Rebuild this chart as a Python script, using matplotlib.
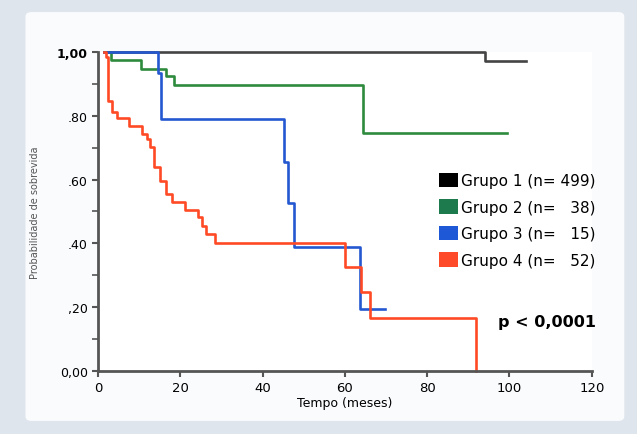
import matplotlib.pyplot as plt
from matplotlib.patches import Patch, FancyBboxPatch

# Kaplan-Meier Kurven
t_g1 = [1.5, 94.0, 104.0]
s_g1 = [1.0, 0.972, 0.972]

t_g2 = [1.5, 3.2, 10.4, 16.5, 18.4, 64.3, 99.5]
s_g2 = [1.0, 0.974, 0.947, 0.926, 0.897, 0.746, 0.746]

t_g3 = [1.5, 14.6, 15.4, 45.1, 46.2, 47.6, 63.6, 69.7]
s_g3 = [1.0, 0.933, 0.79, 0.656, 0.527, 0.39, 0.194, 0.194]

t_g4 = [1.5, 2.0, 2.4, 3.3, 4.5, 7.4, 10.6, 11.8, 12.6, 13.7, 15.0, 16.4, 18.0,
        21.1, 24.2, 25.3, 26.2, 28.4, 60.1, 64.0, 66.0, 91.9]
s_g4 = [1.0, 0.984, 0.847, 0.813, 0.792, 0.767, 0.743, 0.727, 0.703, 0.638, 0.597,
        0.555, 0.531, 0.506, 0.482, 0.454, 0.429, 0.401, 0.327, 0.249, 0.166, 0.0]

legend_labels = ["Grupo 1 (n= 499)", "Grupo 2 (n=   38)", "Grupo 3 (n=   15)", "Grupo 4 (n=   52)"]
x_ticks = [0, 20, 40, 60, 80, 100, 120]
y_ticks = [0.0, 0.2, 0.4, 0.6, 0.8, 1.0]
y_ticklabels = ["0,00", ",20", ".40", ".60", ".80", "1,00"]

line_colors = ["#444444", "#2e8b3e", "#2458d0", "#ff4a25"]
patch_colors = ["#000000", "#1c7a4c", "#1f58d6", "#ff4a2a"]

fig = plt.figure(figsize=(6.37, 4.35), dpi=100, facecolor="#dfe5ed")
# heller Papierbereich
bg = FancyBboxPatch((0.05, 0.04), 0.92, 0.92, boxstyle="round,pad=0.01",
                    transform=fig.transFigure, facecolor="#fafbfd",
                    edgecolor="none", zorder=-5)
fig.add_artist(bg)
ax = fig.add_axes([0.154, 0.145, 0.775, 0.733])
ax.set_zorder(2)
ax.set_facecolor("white")

for t, s, c in zip([t_g1, t_g2, t_g3, t_g4], [s_g1, s_g2, s_g3, s_g4], line_colors):
    ax.step(t, s, where="post", color=c, linewidth=1.9, clip_on=False)

ax.set_xlim(0, 120)
ax.set_ylim(0, 1.0)
ax.set_xticks(x_ticks)
ax.set_xticklabels([str(x) for x in x_ticks], fontsize=9.5)
ax.set_yticks(y_ticks)
ax.set_yticklabels(y_ticklabels, fontsize=9)
ax.set_yticks([0.1, 0.3, 0.5, 0.7, 0.9], minor=True)
ax.tick_params(axis="both", which="major", length=4, width=1.5, color="#555555")
ax.tick_params(axis="y", which="minor", length=4, width=1.2, color="#555555")
ax.yaxis.get_ticklabels()[-1].set_fontweight("bold")

for side in ["top", "right"]:
    ax.spines[side].set_visible(False)
for side in ["left", "bottom"]:
    ax.spines[side].set_color("#555555")
    ax.spines[side].set_linewidth(2)

ax.set_xlabel("Tempo (meses)", fontsize=9, labelpad=1)
ax.set_ylabel("Probabilidade de sobrevida", fontsize=7, color="#555555", labelpad=12)

handles = [Patch(facecolor=c, edgecolor="none") for c in patch_colors]
ax.legend(handles, legend_labels, loc="upper left", bbox_to_anchor=(0.663, 0.665),
          frameon=False, fontsize=11, handlelength=1.25, handleheight=1.1,
          handletextpad=0.2, labelspacing=0.72)

ax.text(0.81, 0.155, "p < 0,0001", transform=ax.transAxes, fontsize=11.5,
        fontweight="bold", ha="left", va="center")

plt.savefig("out.png", dpi=100, facecolor=fig.get_facecolor())
